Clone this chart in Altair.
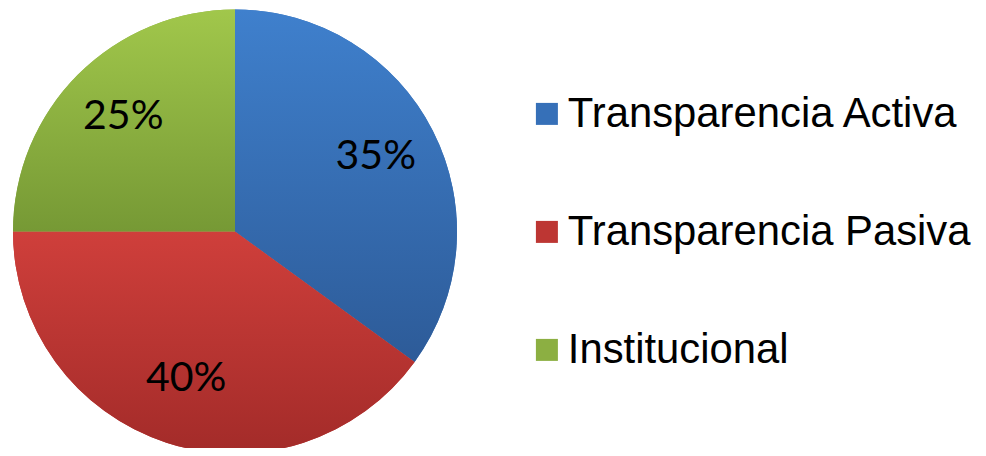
import altair as alt
import pandas as pd

categories = ["Transparencia Activa", "Transparencia Pasiva", "Institucional"]
values = [35, 40, 25]
labels = ["35%", "40%", "25%"]
order = [0, 1, 2]

flat_colors = ["#3670B8", "#BD3633", "#8CAF42"]
grad_top = ["#3F80CD", "#CF3F3B", "#A1C74B"]
grad_bot = ["#2D5B98", "#A32B29", "#769935"]

df = pd.DataFrame({"cat": categories, "value": values, "label": labels, "idx": order})

R = 222
CX, CY = 227, 223.5  # pie centre inside the 970x440 chart area

base = alt.Chart(df).encode(
    theta=alt.Theta("value:Q", stack=True),
    order=alt.Order("idx:Q"),
)

flat = base.mark_arc(outerRadius=R, x=CX, y=CY).encode(
    color=alt.Color(
        "cat:N",
        scale=alt.Scale(domain=categories, range=flat_colors),
        sort=categories,
        legend=alt.Legend(
            title=None,
            orient="none",
            legendX=518,
            legendY=85,
            symbolType="square",
            symbolSize=484,
            symbolStrokeWidth=0,
            labelFont="Liberation Sans",
            labelFontSize=41.8,
            labelColor="#000000",
            labelOffset=0,
            labelLimit=1000,
            rowPadding=75,
            padding=0,
        ),
    )
)

layers = [flat]
for i, c in enumerate(categories):
    grad = {
        "gradient": "linear",
        "x1": 0, "y1": 0, "x2": 0, "y2": 1,
        "stops": [
            {"offset": 0, "color": grad_top[i]},
            {"offset": 1, "color": grad_bot[i]},
        ],
    }
    layers.append(
        base.mark_arc(outerRadius=R, x=CX, y=CY, fill=grad).encode(
            opacity=alt.condition(alt.datum.cat == c, alt.value(1), alt.value(0))
        )
    )

text = base.mark_text(radius=158, x=CX, y=CY - 3, font="Lato", fontSize=41,
                      color="#000000").encode(text="label:N")
layers.append(text)

chart = alt.layer(*layers).properties(
    width=970, height=440, padding=0,
    autosize=alt.AutoSizeParams(type="none"),
).configure_view(stroke=None).configure(background="#ffffff")

chart.save("out.html", embed_options={"renderer": "svg", "actions": False})
